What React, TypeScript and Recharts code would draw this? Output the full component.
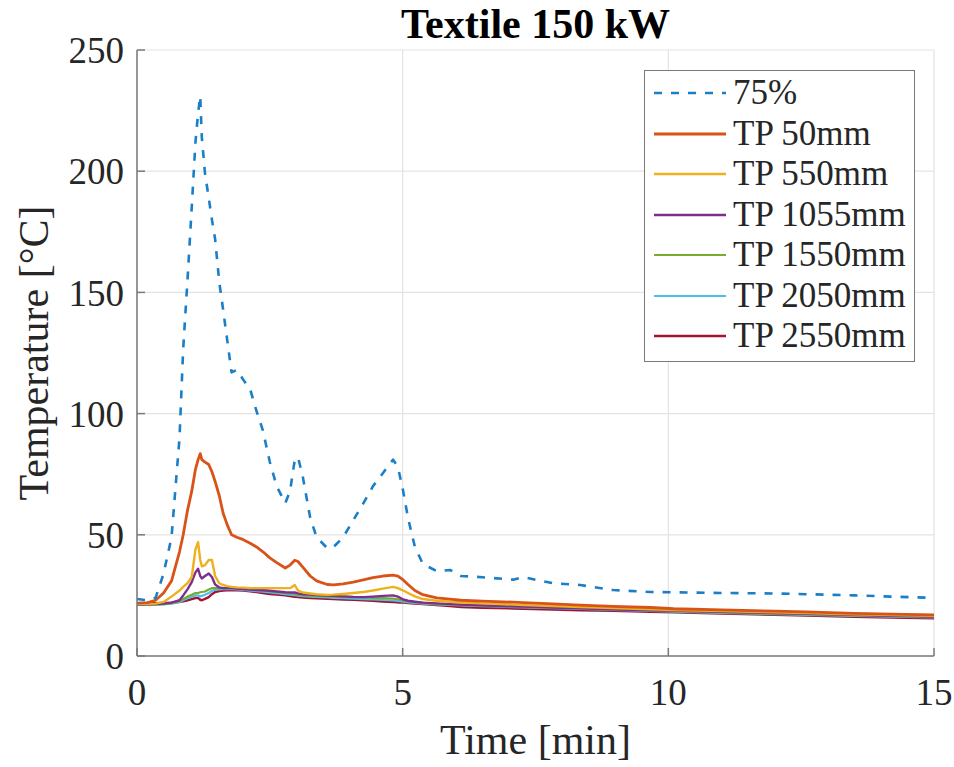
import React from 'react';
import {
  LineChart,
  Line,
  XAxis,
  YAxis,
  CartesianGrid,
} from 'recharts';

// time points [min]
const TIME = [
  0, 0.2, 0.35, 0.5, 0.65, 0.8, 0.87, 0.95, 1.03, 1.1, 1.15, 1.19, 1.22, 1.28, 1.35, 1.41,
  1.47, 1.55, 1.62, 1.7, 1.78, 1.88, 2.0, 2.13, 2.25, 2.37, 2.5, 2.63, 2.79, 2.88, 2.97, 3.03,
  3.12, 3.26, 3.38, 3.58, 3.7, 3.88, 4.07, 4.26, 4.44, 4.63, 4.82, 4.91, 5.01, 5.1, 5.23, 5.38,
  5.64, 5.89, 6.1, 6.5, 7.08, 7.27, 7.83, 8.34, 8.96, 9.66, 10.1, 11, 12, 12.6, 13.5, 14.2, 15,
];

const T_75 = [
  23.5, 23, 24, 34, 49, 90, 127, 155, 185, 212, 224, 231, 214, 199, 189, 180,
  172, 154, 143, 130, 117, 118, 114, 110, 101, 93, 80, 70, 63, 68, 81, 82,
  74, 57, 49, 44.5, 45, 49, 56, 63, 70, 75.5, 81, 78, 68, 57, 45, 38,
  35, 35.5, 33, 32.5, 31.5, 32.5, 30, 29.3, 27.2, 26.4, 26.3, 26, 25.8, 25.5, 25, 24.5, 24,
];

const TP_50 = [
  21.8, 22, 23, 26, 31, 43, 50, 60, 68, 77, 81, 83.5, 81, 80, 79, 76,
  72, 66, 59, 54, 50, 49, 48, 46.5, 45, 43, 40.5, 38.5, 36.3, 37.5, 39.5, 39,
  36.7, 33, 31, 29.5, 29.3, 29.8, 30.5, 31.4, 32.3, 33, 33.4, 33, 31.4, 29.5, 27, 25.3,
  24, 23.5, 23, 22.6, 22.2, 22, 21.5, 21, 20.5, 20, 19.5, 19, 18.5, 18.2, 17.6, 17.3, 17,
];

const TP_550 = [
  21.5, 21.5, 21.6, 22.3, 24.5, 27, 28.5, 30, 32.6, 44, 47, 39.6, 37, 37.5, 39.6, 39.6,
  33, 30, 29.3, 28.8, 28.5, 28.3, 28.2, 28, 28, 28, 28, 28, 28, 28, 29.3, 27,
  26.2, 25.8, 25.5, 25.2, 25.3, 25.6, 26, 26.4, 27, 27.8, 28.5, 28, 27, 26, 24.6, 23.5,
  22.8, 22.4, 22.1, 21.7, 21.2, 21, 20.6, 20.2, 19.8, 19.3, 19, 18.5, 18, 17.7, 17.2, 16.9, 16.6,
];

const TP_1055 = [
  21.3, 21.3, 21.4, 21.6, 22, 23, 25, 27.5, 30.5, 34.5, 36, 33, 32, 33, 34, 32.6,
  29.5, 28.3, 28, 28, 28, 27.8, 27.6, 27.4, 27.2, 27.1, 26.9, 26.6, 26.3, 26.2, 26.2, 25.8,
  25.5, 25.3, 25.1, 24.9, 24.8, 24.6, 24.4, 24.3, 24.5, 24.8, 25, 24.5, 23.3, 22.8, 22.4, 22,
  21.7, 21.4, 21.2, 20.9, 20.5, 20.4, 20, 19.7, 19.3, 18.9, 18.7, 18.2, 17.7, 17.4, 17, 16.6, 16.3,
];

const TP_1550 = [
  21.3, 21.3, 21.3, 21.4, 21.8, 22.6, 23.5, 24.5, 25.3, 26, 26, 26.3, 26.4, 26.6, 27.4, 28,
  28, 28, 28, 28, 28, 27.9, 27.8, 27.5, 27.3, 27.2, 26.8, 26.4, 26, 25.8, 25.6, 25.3,
  25, 24.9, 24.8, 24.6, 24.5, 24.4, 24.3, 24.2, 24, 23.9, 23.7, 23.4, 22.9, 22.5, 22.2, 21.9,
  21.5, 21.3, 21.1, 20.8, 20.4, 20.3, 19.9, 19.6, 19.2, 18.8, 18.5, 18, 17.5, 17.2, 16.7, 16.4, 16.1,
];

const TP_2050 = [
  21.2, 21.2, 21.2, 21.3, 21.6, 22.3, 23, 23.8, 24.5, 25, 25, 24.6, 24.8, 25.3, 26, 26.8,
  27.3, 27.5, 27.6, 27.6, 27.6, 27.5, 27.3, 27, 26.8, 26.5, 26.2, 25.9, 25.5, 25.3, 25.1, 24.9,
  24.7, 24.5, 24.4, 24.2, 24, 23.9, 23.7, 23.5, 23.3, 23.1, 22.9, 22.7, 22.4, 22.1, 21.9, 21.6,
  21.3, 21.1, 20.9, 20.6, 20.2, 20.1, 19.7, 19.4, 19, 18.6, 18.3, 17.8, 17.3, 17, 16.5, 16.2, 15.9,
];

const TP_2550 = [
  21.8, 21.8, 21.8, 21.9, 22, 22.3, 22.6, 23, 23.5, 23.9, 24, 23.2, 23, 23.6, 24.3, 25.5,
  26.4, 26.8, 27, 27.1, 27.2, 27.1, 27, 26.7, 26.4, 26, 25.6, 25.3, 25, 24.7, 24.4, 24.3,
  24.1, 23.9, 23.8, 23.6, 23.5, 23.3, 23.2, 23, 22.8, 22.5, 22.3, 22.1, 22, 21.8, 21.6, 21.4,
  21, 20.6, 20.2, 19.9, 19.6, 19.5, 19.2, 18.9, 18.6, 18.2, 18, 17.5, 17, 16.7, 16.2, 15.9, 15.6,
];

const X_TICKS = [0, 5, 10, 15];
const Y_TICKS = [0, 50, 100, 150, 200, 250];

const SERIES = [
  { key: 's75', name: '75%', values: T_75, color: '#1a7fc8', dash: '8 9', width: 2.6 },
  { key: 's50', name: 'TP 50mm', values: TP_50, color: '#D95319', dash: undefined, width: 2.8 },
  { key: 's550', name: 'TP 550mm', values: TP_550, color: '#EDB120', dash: undefined, width: 2.4 },
  { key: 's1055', name: 'TP 1055mm', values: TP_1055, color: '#7E2F8E', dash: undefined, width: 2.4 },
  { key: 's1550', name: 'TP 1550mm', values: TP_1550, color: '#77AC30', dash: undefined, width: 2.2 },
  { key: 's2050', name: 'TP 2050mm', values: TP_2050, color: '#4DBEEE', dash: undefined, width: 2.2 },
  { key: 's2550', name: 'TP 2550mm', values: TP_2550, color: '#A2142F', dash: undefined, width: 2.4 },
];

const data = TIME.map((t, i) => {
  const row: Record<string, number> = { t };
  SERIES.forEach((s) => {
    row[s.key] = s.values[i];
  });
  return row;
});

const FONT = '"Liberation Serif", "Times New Roman", serif';
const TEXT = '#262626';
const AXIS = '#7a7a7a';

const LegendBox = () => (
  <div
    style={{
      position: 'absolute',
      left: 644,
      top: 70,
      width: 271,
      boxSizing: 'border-box',
      border: `1.5px solid ${AXIS}`,
      background: '#fff',
      padding: '2px 0 4px 8px',
      fontFamily: FONT,
      fontSize: 35,
      color: TEXT,
    }}
  >
    {SERIES.map((s) => (
      <div key={s.key} style={{ display: 'flex', alignItems: 'center', height: 40.5 }}>
        <svg width={80} height={10}>
          <line
            x1={1}
            y1={5}
            x2={73}
            y2={5}
            stroke={s.color}
            strokeWidth={s.width}
            strokeDasharray={s.dash}
          />
        </svg>
        <span style={{ lineHeight: '40px' }}>{s.name}</span>
      </div>
    ))}
  </div>
);

const App: React.FC = () => {
  return (
    <div style={{ position: 'absolute', left: 0, top: 0, width: 954, height: 767, background: '#fff' }}>
      <style>{'body{margin:0}'}</style>
      <div
        style={{
          position: 'absolute',
          left: 137,
          width: 797,
          top: 0,
          textAlign: 'center',
          fontFamily: FONT,
          fontWeight: 'bold',
          fontSize: 42,
          lineHeight: '48px',
          color: '#000',
        }}
      >
        Textile 150 kW
      </div>
      <LineChart
        width={954}
        height={767}
        data={data}
        margin={{ top: 50, right: 20, bottom: 0, left: 0 }}
      >
        <CartesianGrid
          stroke="#e3e3e3"
          strokeWidth={1.2}
          horizontalValues={Y_TICKS}
          verticalValues={X_TICKS}
        />
        <XAxis
          dataKey="t"
          type="number"
          domain={[0, 15]}
          ticks={X_TICKS}
          allowDataOverflow
          height={111}
          stroke={AXIS}
          strokeWidth={1.5}
          tickSize={-8}
          tickMargin={31}
          tick={{ fill: TEXT, fontSize: 37, fontFamily: FONT }}
          label={{
            content: ({ viewBox }: any) => (
              <text
                x={viewBox.x + viewBox.width / 2}
                y={754}
                textAnchor="middle"
                fill={TEXT}
                fontSize={42}
                fontFamily={FONT}
              >
                Time [min]
              </text>
            ),
          }}
        />
        <XAxis
          xAxisId="top"
          dataKey="t"
          type="number"
          domain={[0, 15]}
          ticks={X_TICKS}
          orientation="top"
          height={0}
          stroke={AXIS}
          strokeWidth={1.5}
          tickSize={-8}
          tick={false}
        />
        <YAxis
          type="number"
          domain={[0, 250]}
          ticks={Y_TICKS}
          width={137}
          stroke={AXIS}
          strokeWidth={1.5}
          tickSize={-8}
          tickMargin={21}
          tick={{ fill: TEXT, fontSize: 37, fontFamily: FONT }}
          label={{
            content: ({ viewBox }: any) => (
              <text
                transform={`translate(48, ${viewBox.y + viewBox.height / 2}) rotate(-90)`}
                textAnchor="middle"
                fill={TEXT}
                fontSize={42}
                fontFamily={FONT}
              >
                Temperature [°C]
              </text>
            ),
          }}
        />
        <YAxis
          yAxisId="right"
          type="number"
          domain={[0, 250]}
          ticks={Y_TICKS}
          orientation="right"
          width={0}
          stroke={AXIS}
          strokeWidth={1.5}
          tickSize={-8}
          tick={false}
        />
        {SERIES.map((s) => (
          <Line
            key={s.key}
            dataKey={s.key}
            name={s.name}
            type="linear"
            stroke={s.color}
            strokeWidth={s.width}
            strokeDasharray={s.dash}
            strokeLinejoin="round"
            dot={false}
            activeDot={false}
            isAnimationActive={false}
          />
        )).reverse()}
      </LineChart>
      <LegendBox />
    </div>
  );
};

export default App;
